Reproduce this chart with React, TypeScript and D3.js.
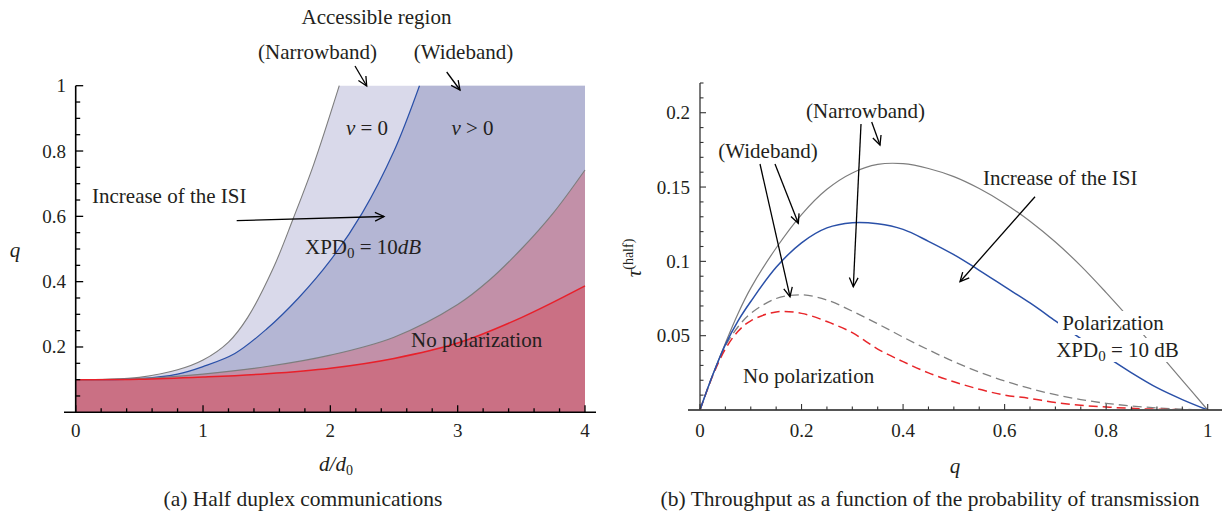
import React from "react";
import * as d3 from "d3";

// ---------- Left chart data (q vs d/d0) ----------
const narrowD = [0, 0.25, 0.5, 0.8, 1.0, 1.2, 1.35, 1.55, 1.71, 1.87, 2.07];
const narrowQ = [0.1, 0.101, 0.107, 0.13, 0.16, 0.215, 0.29, 0.44, 0.595, 0.76, 1.0];
const wideD = [0, 0.5, 0.8, 1.0, 1.25, 1.5, 1.75, 2.0, 2.25, 2.5, 2.7];
const wideQ = [0.1, 0.103, 0.117, 0.14, 0.18, 0.255, 0.35, 0.465, 0.61, 0.8, 1.0];
const polD = [0, 0.5, 1, 1.5, 2, 2.5, 3, 3.25, 3.5, 3.75, 4];
const polQ = [0.1, 0.103, 0.117, 0.14, 0.175, 0.23, 0.33, 0.405, 0.5, 0.61, 0.742];
const noPolD = [0, 0.5, 1.0, 1.5, 2.0, 2.5, 3.0, 3.5, 4.0];
const noPolQ = [0.1, 0.101, 0.108, 0.118, 0.135, 0.165, 0.212, 0.29, 0.387];
const leftXTicks = [0, 1, 2, 3, 4];
const leftYTicks = [0.2, 0.4, 0.6, 0.8, 1];

// ---------- Right chart data (tau vs q) ----------
const qGrid = [0, 0.025, 0.05, 0.075, 0.1, 0.15, 0.2, 0.25, 0.3, 0.35, 0.4, 0.45, 0.5, 0.55, 0.6, 0.65, 0.7, 0.75, 0.8, 0.85, 0.9, 0.95, 1];
const narrowPol = [0, 0.0235, 0.045, 0.065, 0.082, 0.109, 0.1315, 0.1485, 0.1595, 0.1652, 0.1657, 0.1625, 0.157, 0.149, 0.139, 0.127, 0.113, 0.097, 0.079, 0.06, 0.04, 0.02, 0];
const widePol = [0, 0.0235, 0.044, 0.06, 0.073, 0.096, 0.1125, 0.1225, 0.126, 0.1253, 0.1215, 0.1135, 0.1045, 0.094, 0.083, 0.072, 0.06, 0.048, 0.036, 0.025, 0.015, 0.007, 0];
const narrowNoPol = [0, 0.0235, 0.043, 0.056, 0.065, 0.075, 0.0775, 0.074, 0.0665, 0.058, 0.049, 0.0405, 0.0325, 0.0255, 0.0195, 0.0145, 0.0103, 0.007, 0.0045, 0.0027, 0.0014, 0.0005, 0];
const wideNoPol = [0, 0.023, 0.041, 0.053, 0.06, 0.066, 0.065, 0.0595, 0.052, 0.041, 0.0325, 0.025, 0.019, 0.014, 0.01, 0.0078, 0.005, 0.0032, 0.002, 0.0011, 0.0005, 0.0002, 0];
const rightXTicks = [0, 0.2, 0.4, 0.6, 0.8, 1];
const rightYTicks = [0.05, 0.1, 0.15, 0.2];

const FONT = "'Liberation Serif', 'Times New Roman', serif";
const AN = 21; // annotation font size

const xL = d3.scaleLinear().domain([0, 4]).range([75.7, 585]);
const yL = d3.scaleLinear().domain([0, 1]).range([412.3, 85.7]);
const xR = d3.scaleLinear().domain([0, 1]).range([700, 1207.7]);
const yR = d3.scaleLinear().domain([0, 0.22]).range([410, 83]);

const smooth = d3.curveCatmullRom.alpha(0.5);

function zip(a: number[], b: number[]): [number, number][] {
  return a.map((v, i) => [v, b[i]] as [number, number]);
}

function regionPath(ds: number[], qs: number[]) {
  const line = d3
    .line<[number, number]>()
    .x((p) => xL(p[0]))
    .y((p) => yL(Math.min(p[1], 1)))
    .curve(smooth);
  let p = line(zip(ds, qs)) as string;
  const lastD = ds[ds.length - 1];
  if (lastD < 4) p += `L${xL(4)},${yL(1)}`;
  p += `L${xL(4)},${yL(0)}L${xL(0)},${yL(0)}Z`;
  return p;
}
function leftLine(ds: number[], qs: number[]) {
  return d3
    .line<[number, number]>()
    .x((p) => xL(p[0]))
    .y((p) => yL(p[1]))
    .curve(smooth)(zip(ds, qs)) as string;
}
function rightLine(vals: number[]) {
  return d3
    .line<[number, number]>()
    .x((p) => xR(p[0]))
    .y((p) => yR(p[1]))
    .curve(smooth)(zip(qGrid, vals)) as string;
}

function Arrow({ x1, y1, x2, y2 }: { x1: number; y1: number; x2: number; y2: number }) {
  const a = Math.atan2(y2 - y1, x2 - x1);
  const L = 10;
  const w = 0.45;
  const hx1 = x2 - L * Math.cos(a - w);
  const hy1 = y2 - L * Math.sin(a - w);
  const hx2 = x2 - L * Math.cos(a + w);
  const hy2 = y2 - L * Math.sin(a + w);
  return (
    <g stroke="#000" strokeWidth={1.3} fill="none">
      <line x1={x1} y1={y1} x2={x2} y2={y2} />
      <polyline points={`${hx1},${hy1} ${x2},${y2} ${hx2},${hy2}`} />
    </g>
  );
}

function T(props: any) {
  const { children, size = AN, ...rest } = props;
  return (
    <text fontFamily={FONT} fontSize={size} fill="#231f20" {...rest}>
      {children}
    </text>
  );
}

export default function App() {
  const leftMinorY = d3.range(0.05, 1.0001, 0.05);
  const leftMinorX = d3.range(0, 4.0001, 0.2);
  const rightMinorY = d3.range(0.01, 0.2201, 0.01);
  const rightMinorX = d3.range(0, 1.0001, 0.05);

  return (
    <svg
      width={1222}
      height={514}
      style={{ position: "absolute", left: 0, top: 0, background: "#fff" }}
    >
      {/* ================= LEFT CHART ================= */}
      <path d={regionPath(narrowD, narrowQ)} fill="#d9d9ea" />
      <path d={regionPath(wideD, wideQ)} fill="#b4b6d4" />
      <path d={regionPath(polD, polQ)} fill="#c290a8" />
      <path d={regionPath(noPolD, noPolQ)} fill="#ca7084" />
      <g fill="none">
        <path d={leftLine(narrowD, narrowQ)} stroke="#7d7d7d" strokeWidth={1.1} />
        <path d={leftLine(wideD, wideQ)} stroke="#2a50a8" strokeWidth={1.2} />
        <path d={leftLine(polD, polQ)} stroke="#7d7d7d" strokeWidth={1.1} />
        <path d={leftLine(noPolD, noPolQ)} stroke="#e8202a" strokeWidth={1.5} />
      </g>

      {/* left axes */}
      <g stroke="#000" strokeWidth={1.6}>
        <line x1={xL(0)} y1={yL(0)} x2={xL(0)} y2={yL(1)} />
        <line x1={64} y1={yL(0)} x2={596} y2={yL(0)} />
      </g>
      <g stroke="#000" strokeWidth={1.3}>
        {leftMinorY.map((v) => {
          const major = Math.abs(v / 0.2 - Math.round(v / 0.2)) < 1e-6;
          return <line key={"ly" + v} x1={xL(0)} x2={xL(0) + (major ? 7.5 : 4.5)} y1={yL(v)} y2={yL(v)} />;
        })}
        {leftMinorX.map((v) => {
          const major = Math.abs(v - Math.round(v)) < 1e-6;
          return <line key={"lx" + v} x1={xL(v)} x2={xL(v)} y1={yL(0)} y2={yL(0) - (major ? 7 : 4)} />;
        })}
      </g>
      {leftYTicks.map((v) => (
        <T key={"lyt" + v} size={19} x={66} y={yL(v) + 6.5} textAnchor="end">
          {String(v)}
        </T>
      ))}
      {leftXTicks.map((v) => (
        <T key={"lxt" + v} size={19} x={xL(v)} y={437} textAnchor="middle">
          {String(v)}
        </T>
      ))}
      <T x={15} y={257} textAnchor="middle" fontStyle="italic">q</T>
      <T x={336} y={471} textAnchor="middle" fontStyle="italic">
        d/d<tspan fontSize={14} dy={4} fontStyle="normal">0</tspan>
      </T>

      {/* left annotations */}
      <T x={376.5} y={24} textAnchor="middle">Accessible region</T>
      <T x={317.5} y={59} textAnchor="middle">(Narrowband)</T>
      <T x={463.5} y={59} textAnchor="middle">(Wideband)</T>
      <Arrow x1={355} y1={66} x2={366.7} y2={86} />
      <Arrow x1={446.7} y1={72} x2={460} y2={90} />
      <T x={367} y={135} textAnchor="middle">
        <tspan fontStyle="italic">ν</tspan> = 0
      </T>
      <T x={472.5} y={135} textAnchor="middle">
        <tspan fontStyle="italic">ν</tspan> &gt; 0
      </T>
      <T x={92} y={203}>Increase of the ISI</T>
      <Arrow x1={236.7} y1={220.7} x2={384} y2={216.5} />
      <T x={305} y={254}>
        XPD<tspan fontSize={15} dy={4}>0</tspan>
        <tspan dy={-4}> = 10</tspan>
        <tspan fontStyle="italic">dB</tspan>
      </T>
      <T x={411} y={347}>No polarization</T>

      <T x={303} y={506} textAnchor="middle" size={21.5}>
        (a)  Half duplex communications
      </T>

      {/* ================= RIGHT CHART ================= */}
      <g fill="none">
        <path d={rightLine(narrowNoPol)} stroke="#808080" strokeWidth={1.3} strokeDasharray="9,5" />
        <path d={rightLine(wideNoPol)} stroke="#e8262a" strokeWidth={1.5} strokeDasharray="9,5" />
        <path d={rightLine(narrowPol)} stroke="#7d7d7d" strokeWidth={1.2} />
        <path d={rightLine(widePol)} stroke="#2a50a8" strokeWidth={1.5} />
      </g>

      {/* right axes */}
      <g stroke="#333" strokeWidth={1.3}>
        <line x1={xR(0)} y1={yR(0)} x2={xR(0)} y2={yR(0.22)} />
      </g>
      <line x1={688} y1={yR(0)} x2={1222} y2={yR(0)} stroke="#555" strokeWidth={2} />
      <g stroke="#333" strokeWidth={1.1}>
        {rightMinorY.map((v) => {
          const major = Math.abs(v / 0.05 - Math.round(v / 0.05)) < 1e-6;
          return <line key={"ry" + v} x1={xR(0)} x2={xR(0) + (major ? 6 : 3.5)} y1={yR(v)} y2={yR(v)} />;
        })}
        {rightMinorX.map((v) => {
          const major = Math.abs(v / 0.2 - Math.round(v / 0.2)) < 1e-6;
          return <line key={"rx" + v} x1={xR(v)} x2={xR(v)} y1={yR(0)} y2={yR(0) - (major ? 6 : 3.5)} />;
        })}
      </g>
      {rightYTicks.map((v) => (
        <T key={"ryt" + v} size={19} x={690} y={yR(v) + 6.5} textAnchor="end">
          {String(v)}
        </T>
      ))}
      {rightXTicks.map((v) => (
        <T key={"rxt" + v} size={19} x={xR(v)} y={437} textAnchor="middle">
          {String(v)}
        </T>
      ))}
      <T x={955} y={473} textAnchor="middle" fontStyle="italic">q</T>
      <g transform="translate(641,258) rotate(-90)">
        <T x={0} y={0} textAnchor="middle">
          <tspan fontStyle="italic">τ</tspan>
          <tspan fontSize={14} dy={-8}>(half)</tspan>
        </T>
      </g>

      {/* right annotations */}
      <T x={865.5} y={118} textAnchor="middle">(Narrowband)</T>
      <T x={768} y={158} textAnchor="middle">(Wideband)</T>
      <Arrow x1={861} y1={124} x2={853.3} y2={286.7} />
      <Arrow x1={871.7} y1={122} x2={880} y2={145} />
      <Arrow x1={760} y1={164} x2={790} y2={296.7} />
      <Arrow x1={775} y1={164} x2={798.3} y2={223.3} />
      <T x={983} y={185}>Increase of the ISI</T>
      <Arrow x1={1035} y1={196.7} x2={960} y2={281.7} />
      <rect x={1058} y={311} width={110} height={24} fill="#fff" />
      <rect x={1052} y={338} width={131} height={24} fill="#fff" />
      <T x={1113} y={330} textAnchor="middle">Polarization</T>
      <T x={1117.5} y={357} textAnchor="middle">
        XPD<tspan fontSize={15} dy={4}>0</tspan>
        <tspan dy={-4}> = 10 dB</tspan>
      </T>
      <T x={743} y={383}>No polarization</T>

      <T x={930} y={506} textAnchor="middle" size={21.5}>
        (b)  Throughput as a function of the probability of transmission
      </T>
    </svg>
  );
}
